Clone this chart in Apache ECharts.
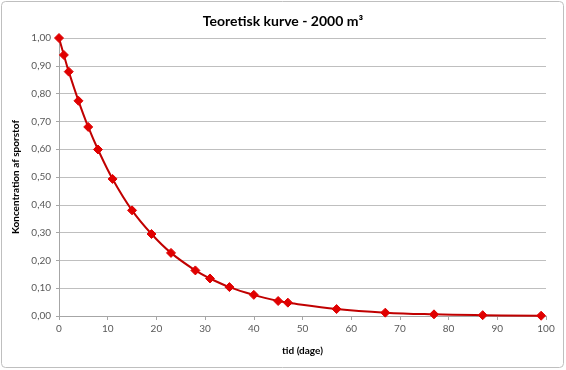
<!DOCTYPE html>
<html><head><meta charset="utf-8">
<script src="https://cdn.jsdelivr.net/npm/echarts@6/dist/echarts.min.js"></script>
<style>html,body{margin:0;padding:0;background:#fff}#c{width:566px;height:370px}</style>
</head><body><div id="c"></div>
<script>
const titleText = 'Teoretisk kurve - 2000 m³';
const xName = 'tid (dage)';
const yName = 'Koncentration af sporstof';
const days = [0, 1, 2, 4, 6, 8, 11, 15, 19, 23, 28, 31, 35, 40, 45, 47, 57, 67, 77, 87, 99];
const conc = [1.00, 0.939, 0.879, 0.774, 0.680, 0.599, 0.493, 0.380, 0.295, 0.227, 0.164, 0.135, 0.104, 0.076, 0.054, 0.048, 0.025, 0.012, 0.006, 0.003, 0.001];

const chart = echarts.init(document.getElementById('c'), null, {renderer: 'canvas'});
const font = 'Lato, "Open Sans", sans-serif';
chart.setOption({
  animation: false,
  title: {text: titleText, left: 'center', top: 9,
    textStyle: {fontFamily: font, fontSize: 14, fontWeight: 'bold', color: '#000'}},
  graphic: [{type: 'rect', shape: {x: 1.5, y: 1.5, width: 562, height: 366, r: 4},
    style: {fill: 'none', stroke: '#bfbfbf', lineWidth: 1}, silent: true}],
  grid: {left: 59, right: 20, top: 38, bottom: 54},
  xAxis: {type: 'value', min: 0, max: 100, interval: 10,
    name: xName, nameLocation: 'middle', nameGap: 30,
    nameTextStyle: {fontFamily: font, fontSize: 10, fontWeight: 'bold', color: '#000'},
    axisLine: {lineStyle: {color: '#a6a6a6'}},
    axisTick: {show: true, length: 4, lineStyle: {color: '#a6a6a6'}},
    axisLabel: {fontFamily: font, fontSize: 10, color: '#595959', margin: 8},
    splitLine: {show: false}},
  yAxis: {type: 'value', min: 0, max: 1, interval: 0.1,
    name: yName, nameLocation: 'middle', nameGap: 37, nameRotate: 90,
    nameTextStyle: {fontFamily: font, fontSize: 10, fontWeight: 'bold', color: '#000'},
    axisLine: {show: true, lineStyle: {color: '#a6a6a6'}},
    axisTick: {show: true, length: 3, lineStyle: {color: '#a6a6a6'}},
    axisLabel: {fontFamily: font, fontSize: 10, color: '#595959', margin: 8,
      formatter: v => v.toFixed(2).replace('.', ',')},
    splitLine: {lineStyle: {color: '#bfbfbf'}}},
  series: [{type: 'line', smooth: 0.4,
    data: days.map((d, i) => [d, conc[i]]),
    symbol: 'diamond', symbolSize: 9,
    lineStyle: {color: '#c00000', width: 2},
    itemStyle: {color: '#e00000', borderColor: '#e00000'}}]
});
</script></body></html>
